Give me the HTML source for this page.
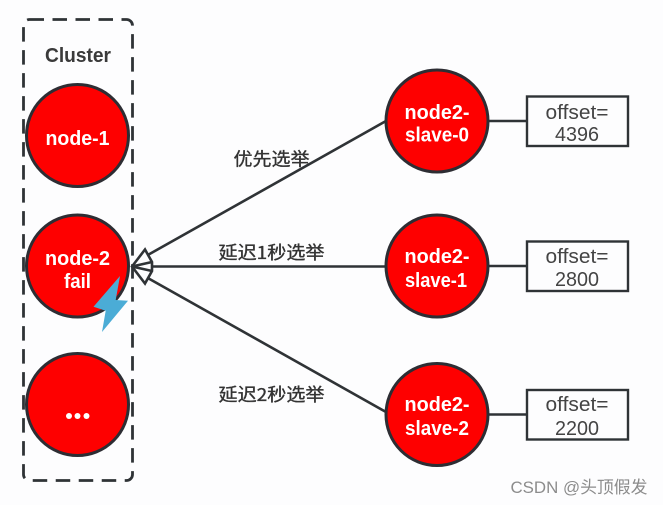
<!DOCTYPE html>
<html><head><meta charset="utf-8">
<style>
html,body{margin:0;padding:0;background:#fdfdfe;width:663px;height:505px;overflow:hidden}
svg{display:block;filter:blur(.35px)}
.n{font:bold 20px "Liberation Sans","Noto Sans CJK SC",sans-serif;fill:#fff;text-anchor:middle}
.o{font:20px "Liberation Sans",sans-serif;fill:#444;text-anchor:middle}
.l{font:18px "Noto Sans CJK SC","Liberation Sans",sans-serif;fill:#333;stroke:#333;stroke-width:.35;text-anchor:middle}
.c{fill:#fe0000;stroke:#2d2d33;stroke-width:3}
.a{fill:none;stroke:#2f3336;stroke-width:2.6}
.h{fill:#fdfdfe;stroke:#2f3336;stroke-width:2.6;stroke-linejoin:miter}
</style></head><body>
<svg width="663" height="505" viewBox="0 0 663 505" xmlns="http://www.w3.org/2000/svg">
<rect x="23.500" y="19.500" width="109" height="461" rx="6" fill="none" stroke="#2f3336" stroke-width="2.800" stroke-dasharray="14.500 8.500"/>
<text x="78" y="62" style="font:bold 20px 'Liberation Sans',sans-serif;fill:#3a3a3a;text-anchor:middle" textLength="66" lengthAdjust="spacingAndGlyphs">Cluster</text>

<path class="a" d="M146 256L386 121M152 266.500H386M146 277L386 412"/>
<path class="a" d="M488 121H527M488 266H527M488 414.500H527"/>

<circle class="c" cx="77.500" cy="135.500" r="51"/>
<circle class="c" cx="77.500" cy="266" r="51"/>
<circle class="c" cx="77.500" cy="404.500" r="51"/>
<circle class="c" cx="437" cy="121" r="51"/>
<circle class="c" cx="437" cy="266" r="51"/>
<circle class="c" cx="437" cy="414.500" r="51"/>

<path class="h" d="M132 266.500L145 249.500L152 262V271L145 283.500Z"/>
<path class="a" d="M132 266.500L152 262M132 266.500L152 271"/>

<polygon points="120,276 115.700,300 128,300.700 102,332 105.700,310.700 93.500,306.700" fill="#4bacd6"/>

<text x="77.500" y="145" class="n" textLength="64" lengthAdjust="spacingAndGlyphs">node-1</text>
<text x="77.500" y="265" class="n" textLength="65" lengthAdjust="spacingAndGlyphs">node-2</text>
<text x="77.500" y="288" class="n" textLength="27" lengthAdjust="spacingAndGlyphs">fail</text>
<circle cx="69" cy="416" r="3" fill="#fff"/><circle cx="77.500" cy="416" r="3" fill="#fff"/><circle cx="86.500" cy="416" r="3" fill="#fff"/>

<text x="437" y="119" class="n" textLength="65" lengthAdjust="spacingAndGlyphs">node2-</text>
<text x="437" y="141.500" class="n" textLength="64" lengthAdjust="spacingAndGlyphs">slave-0</text>
<text x="437" y="263" class="n" textLength="65" lengthAdjust="spacingAndGlyphs">node2-</text>
<text x="436" y="287" class="n" textLength="62" lengthAdjust="spacingAndGlyphs">slave-1</text>
<text x="437" y="411" class="n" textLength="65" lengthAdjust="spacingAndGlyphs">node2-</text>
<text x="437" y="435" class="n" textLength="64" lengthAdjust="spacingAndGlyphs">slave-2</text>

<rect x="527" y="96.500" width="101" height="49.500" fill="#fdfdfe" stroke="#2f3336" stroke-width="2.400"/>
<rect x="527" y="241.500" width="101" height="49.500" fill="#fdfdfe" stroke="#2f3336" stroke-width="2.400"/>
<rect x="527" y="390" width="101" height="49.500" fill="#fdfdfe" stroke="#2f3336" stroke-width="2.400"/>

<text x="577" y="119" class="o" textLength="63" lengthAdjust="spacingAndGlyphs">offset=</text>
<text x="577" y="141" class="o" textLength="44" lengthAdjust="spacingAndGlyphs">4396</text>
<text x="577" y="263" class="o" textLength="63" lengthAdjust="spacingAndGlyphs">offset=</text>
<text x="577" y="286" class="o" textLength="44" lengthAdjust="spacingAndGlyphs">2800</text>
<text x="577" y="411" class="o" textLength="63" lengthAdjust="spacingAndGlyphs">offset=</text>
<text x="577" y="435" class="o" textLength="44" lengthAdjust="spacingAndGlyphs">2200</text>

<text x="271.500" y="165.500" class="l" textLength="76" lengthAdjust="spacingAndGlyphs">优先选举</text>
<text x="271.500" y="259" class="l" textLength="106" lengthAdjust="spacingAndGlyphs">延迟1秒选举</text>
<text x="271.500" y="401" class="l" textLength="106" lengthAdjust="spacingAndGlyphs">延迟2秒选举</text>

<text x="579" y="493" style="font:17px 'Liberation Sans','Noto Sans CJK SC',sans-serif;fill:#8c8c8c;text-anchor:middle" textLength="137" lengthAdjust="spacingAndGlyphs">CSDN @头顶假发</text>
</svg>
</body></html>
